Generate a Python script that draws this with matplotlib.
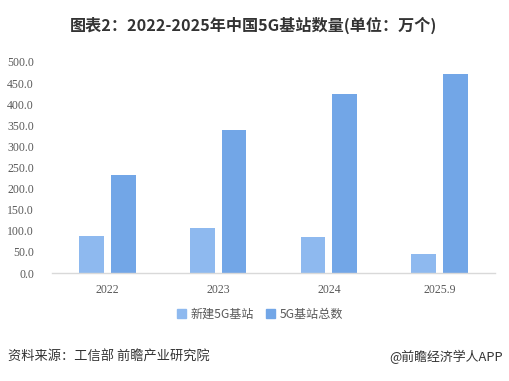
import matplotlib
matplotlib.use("Agg")
import matplotlib.pyplot as plt
from matplotlib.patches import Patch
import numpy as np

plt.rcParams['font.family'] = ['Noto Sans CJK SC', 'DejaVu Sans']

categories = ["2022", "2023", "2024", "2025.9"]
new_stations = [88.7, 106.5, 85.4, 45.4]
total_stations = [231.2, 337.7, 425.1, 470.5]
series_names = ["新建5G基站", "5G基站总数"]
yticks = [0, 50, 100, 150, 200, 250, 300, 350, 400, 450, 500]

c_light = "#8EB9EF"
c_dark = "#72A6E7"

fig = plt.figure(figsize=(5.09, 3.81), dpi=100)
ax = fig.add_axes([52/509, 1-273/381, (495-52)/509, (273-62)/381])

x = np.arange(len(categories))
w = 0.225
off = 0.143
ax.bar(x - off, new_stations, width=w, color=c_light, label=series_names[0])
ax.bar(x + off, total_stations, width=w, color=c_dark, label=series_names[1])

ax.set_xlim(-0.5, len(categories) - 0.5)
ax.set_ylim(0, 500)
ax.set_yticks(yticks)
ax.set_yticklabels([f"{v:.1f}" for v in yticks], family='Liberation Serif', fontsize=8.5, color='#595959')
ax.set_xticks(x)
ax.set_xticklabels(categories, family='Liberation Serif', fontsize=8.5, color='#595959')
ax.tick_params(axis='both', length=0)
ax.tick_params(axis='y', pad=13)
ax.tick_params(axis='x', pad=8)
for s in ['top', 'right', 'left']:
    ax.spines[s].set_visible(False)
ax.spines['bottom'].set_color('#D9D9D9')
ax.spines['bottom'].set_linewidth(1)

fig.text(254/509, 1-25/381, "图表2：2022-2025年中国5G基站数量(单位：万个)", ha='center', va='center',
         fontsize=11.6, fontweight='bold', color='#333333')

handles = [Patch(color=c_light), Patch(color=c_dark)]
fig.legend(handles, series_names, loc='center', bbox_to_anchor=(260/509, 1-314/381), ncol=2,
           frameon=False, fontsize=8.7, handlelength=0.7, handleheight=0.7, handletextpad=0.4,
           columnspacing=1.0, labelcolor='#595959')

fig.text(8/509, 1-357/381, "资料来源：工信部 前瞻产业研究院", ha='left', va='center', fontsize=9.5, color='#333333')
fig.text(503/509, 1-357/381, "@前瞻经济学人APP", ha='right', va='center', fontsize=9.3, color='#333333')

fig.savefig("out.png", dpi=100)
